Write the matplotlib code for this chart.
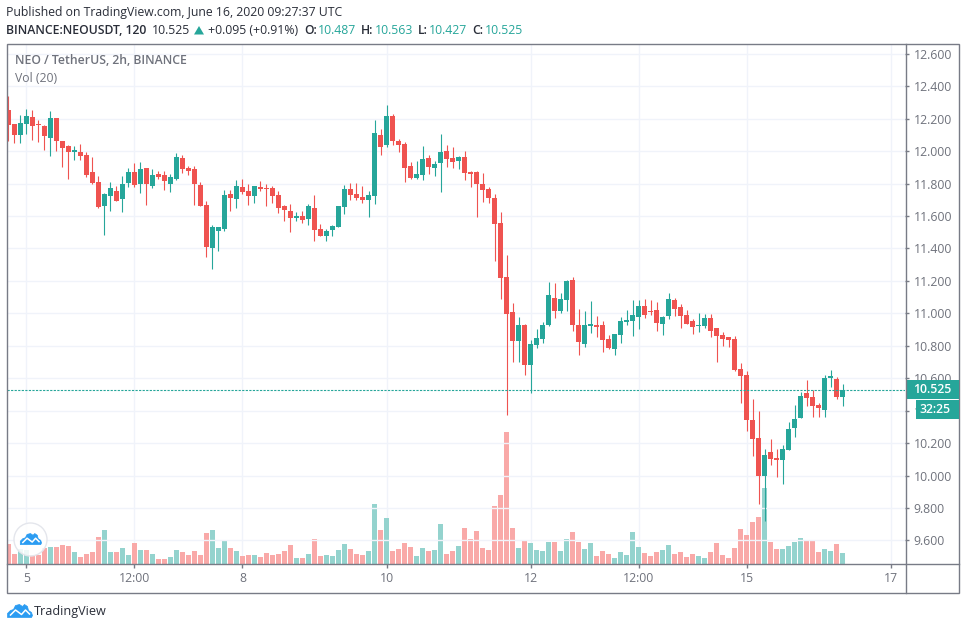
import matplotlib
matplotlib.use("Agg")
import numpy as np
import matplotlib.pyplot as plt
from matplotlib.patches import Circle, Polygon, Rectangle

# NEO / USDT 2h candles
opens = [12.251,12.165,12.099,12.167,12.208,12.165,12.152,12.080,12.202,12.060,12.029,11.994,11.992,11.974,11.869,11.807,11.661,11.721,11.752,11.703,
         11.801,11.869,11.795,11.893,11.783,11.857,11.850,11.795,11.826,11.955,11.893,11.887,11.789,11.666,11.401,11.505,11.518,11.733,11.703,11.776,
         11.752,11.721,11.776,11.770,11.770,11.727,11.659,11.629,11.585,11.598,11.579,11.647,11.518,11.475,11.512,11.530,11.653,11.764,11.733,11.715,
         11.696,11.721,12.097,12.035,12.214,12.060,12.041,11.906,11.832,11.850,11.955,11.893,11.924,11.998,11.955,11.937,11.961,11.869,11.869,11.795,
         11.764,11.709,11.555,11.222,11.006,10.828,10.926,10.680,10.803,10.840,10.926,11.092,11.012,11.080,11.203,10.926,10.809,10.920,10.926,10.926,
         10.840,10.778,10.865,10.945,10.951,10.975,11.043,11.012,11.019,10.932,10.982,11.080,11.037,10.988,10.951,10.920,10.920,10.970,10.908,10.865,
         10.852,10.840,10.655,10.618,10.341,10.230,9.996,10.144,10.107,10.095,10.156,10.292,10.353,10.507,10.483,10.434,10.403,10.600,10.594,10.487]
highs = [12.337,12.165,12.220,12.257,12.251,12.189,12.158,12.245,12.202,12.060,12.035,12.029,12.041,11.992,11.961,11.844,11.739,11.807,11.783,11.844,
         11.893,11.924,11.930,11.893,11.887,11.875,11.875,11.857,11.986,11.974,11.906,11.906,11.807,11.690,11.542,11.530,11.758,11.758,11.820,11.826,
         11.795,11.783,11.813,11.795,11.783,11.752,11.666,11.672,11.622,11.629,11.672,11.727,11.549,11.518,11.542,11.659,11.789,11.801,11.801,11.783,
         11.752,12.189,12.134,12.282,12.226,12.072,12.054,11.930,11.937,12.029,11.974,11.937,12.103,12.035,12.023,11.967,11.998,11.875,11.875,11.863,
         11.776,11.733,11.622,11.357,11.062,10.975,10.932,10.834,10.902,10.945,11.191,11.185,11.123,11.203,11.222,11.025,11.012,11.074,10.982,10.951,
         10.865,10.871,10.975,11.019,11.080,11.080,11.086,11.080,11.068,10.982,11.123,11.092,11.056,11.019,10.963,10.999,10.994,10.994,10.908,10.883,
         10.852,10.859,10.692,10.643,10.471,10.397,10.163,10.224,10.163,10.187,10.329,10.434,10.514,10.588,10.526,10.446,10.618,10.649,10.606,10.563]
lows = [12.062,12.050,12.050,12.105,12.066,12.056,12.006,11.969,12.000,11.902,11.828,11.945,11.945,11.840,11.795,11.647,11.483,11.629,11.690,11.622,
        11.776,11.776,11.739,11.666,11.770,11.826,11.758,11.746,11.820,11.863,11.850,11.666,11.659,11.345,11.271,11.382,11.505,11.629,11.647,11.733,
        11.666,11.678,11.752,11.659,11.678,11.616,11.567,11.499,11.567,11.555,11.542,11.444,11.475,11.444,11.475,11.530,11.610,11.696,11.696,11.678,
        11.592,11.672,11.974,12.023,12.035,11.992,11.807,11.826,11.826,11.820,11.857,11.844,11.746,11.900,11.893,11.887,11.820,11.776,11.591,11.684,
        11.678,11.320,11.086,10.372,10.698,10.698,10.618,10.507,10.784,10.815,10.920,10.969,11.000,11.012,10.889,10.741,10.791,10.877,10.852,10.760,
        10.778,10.741,10.815,10.926,10.858,10.901,10.969,10.988,10.889,10.865,10.963,10.982,10.908,10.932,10.871,10.883,10.908,10.852,10.698,10.797,
        10.791,10.643,10.446,10.273,10.119,9.824,9.720,10.064,9.990,9.947,10.156,10.236,10.353,10.427,10.360,10.360,10.360,10.544,10.471,10.427]
closes = [12.160,12.099,12.171,12.214,12.154,12.158,12.093,12.202,12.062,12.019,11.994,12.004,11.969,11.852,11.803,11.655,11.733,11.770,11.690,11.795,
          11.869,11.789,11.887,11.795,11.850,11.838,11.813,11.838,11.961,11.887,11.875,11.795,11.659,11.407,11.530,11.530,11.727,11.709,11.783,11.746,
          11.721,11.783,11.764,11.764,11.721,11.647,11.635,11.585,11.598,11.573,11.659,11.512,11.475,11.505,11.536,11.659,11.764,11.727,11.709,11.696,
          11.727,12.109,12.023,12.214,12.060,12.035,11.893,11.832,11.857,11.949,11.900,11.918,11.992,11.949,11.930,11.961,11.863,11.857,11.795,11.758,
          11.709,11.548,11.216,10.994,10.828,10.926,10.680,10.809,10.846,10.926,11.111,11.012,11.086,11.197,10.926,10.821,10.926,10.932,10.914,10.834,
          10.784,10.871,10.951,10.957,10.988,11.043,10.988,11.006,10.938,10.975,11.086,11.025,10.982,10.932,10.914,10.926,10.970,10.892,10.859,10.840,
          10.834,10.649,10.612,10.341,10.224,9.996,10.126,10.101,10.095,10.163,10.286,10.347,10.489,10.477,10.427,10.415,10.600,10.612,10.483,10.525]
volumes = [58,28,45,42,25,25,46,49,49,55,52,34,19,28,34,79,100,34,34,46,
           25,61,40,40,28,13,13,19,40,34,25,37,25,91,100,46,67,46,37,22,
           25,25,19,31,25,28,37,55,16,16,28,73,22,25,22,40,58,43,28,25,
           37,178,100,136,37,43,61,49,22,46,37,40,118,28,37,52,106,73,97,46,
           40,172,205,394,106,46,70,61,40,37,64,64,37,73,94,64,43,61,22,37,
           28,16,34,25,94,49,31,22,34,40,55,28,34,19,28,22,16,34,61,25,
           16,46,103,85,124,139,226,64,43,43,52,64,76,70,70,34,43,37,58,31]

price_ticks = [9.6,9.8,10.0,10.2,10.4,10.6,10.8,11.0,11.2,11.4,11.6,11.8,12.0,12.2,12.4,12.6]
time_ticks = [3,21,39,63,87,105,123,147]
time_labels = ["5","12:00","8","10","12","12:00","15","17"]
last_price = 10.525

GREEN = "#26a69a"
RED = "#ef5350"
VOL_GREEN = "#94d3ce"
VOL_RED = "#f9a9a8"
GRID = "#f0f3fa"
FRAME = "#787b86"
TEXT = "#6f727c"
BLUE = "#2b9cf2"
FONT = "Open Sans"

W, H = 966, 629
plt.rcParams["font.family"] = FONT

fig = plt.figure(figsize=(W / 100, H / 100), dpi=100, facecolor="white")


def rect(x0, y0, x1, y1):
    return [x0 / W, 1 - y1 / H, (x1 - x0) / W, (y1 - y0) / H]


def px(x, y):
    return x / W, 1 - y / H


def label(x, y, s, **kw):
    kw.setdefault("va", "center")
    kw.setdefault("color", "#2a2e39")
    kw.setdefault("fontsize", 8.8)
    return fig.text(*px(x, y), s, **kw)


idx = np.arange(len(opens))
o, h, l, c = map(np.array, (opens, highs, lows, closes))
up = c >= o

# volume pane shares the box, scale is arbitrary
ax_vol = fig.add_axes(rect(6.5, 43.5, 905.5, 563.5))
ax_vol.set_xlim(-0.3, 149.45)
ax_vol.set_ylim(0, 1560)
ax_vol.bar(idx, volumes, width=0.83, color=[VOL_GREEN if u else VOL_RED for u in up], linewidth=0, zorder=2)
ax_vol.set_xticks(time_ticks, time_labels, fontsize=8.8, color=TEXT)
ax_vol.tick_params(axis="x", length=3, width=1, color=FRAME, pad=3)
ax_vol.set_yticks([])
ax_vol.grid(False)
ax_vol.vlines(time_ticks, 0, 1560, color=GRID, lw=1, zorder=1)
for s in ax_vol.spines.values():
    s.set_visible(False)
ax_vol.spines["bottom"].set_visible(True)
ax_vol.spines["bottom"].set_color(FRAME)
ax_vol.spines["bottom"].set_linewidth(1)

# price pane
ax = fig.add_axes(rect(6.5, 43.5, 905.5, 563.5), sharex=ax_vol)
ax.patch.set_alpha(0)
ax.set_ylim(9.4577, 12.663)
ax.yaxis.tick_right()
ax.set_yticks(price_ticks, [f"{p:.3f}" for p in price_ticks], fontsize=8.8, color=TEXT)
ax.tick_params(axis="y", length=3, width=1, color=FRAME, pad=3)
ax.tick_params(axis="x", bottom=False, labelbottom=False)
ax.hlines(price_ticks, -0.3, 149.45, color=GRID, lw=1, zorder=0)
for s in ax.spines.values():
    s.set_visible(False)

colors = [GREEN if u else RED for u in up]
wicks = ax.vlines(idx, l, h, color=colors, lw=0.8, zorder=3)
wicks.set_snap(True)
body_low = np.minimum(o, c)
body_h = np.maximum(np.abs(c - o), 0.008)
ax.bar(idx, body_h, bottom=body_low, width=0.83, color=colors, linewidth=0, zorder=4)
ax.axhline(last_price, color=GREEN, lw=0.8, ls=(0, (2, 1.2)), zorder=5)

# outer frame, drawn on top
overlay = fig.add_axes([0, 0, 1, 1], facecolor="none")
overlay.set_xlim(0, W)
overlay.set_ylim(H, 0)
overlay.axis("off")
overlay.add_patch(Rectangle((6.5, 43.5), 952.5, 549, fill=False, ec=FRAME, lw=1))
overlay.plot([905.5, 905.5], [43.5, 592.5], color=FRAME, lw=1)
overlay.plot([905.5, 959], [563.5, 563.5], color=FRAME, lw=1)
overlay.add_patch(Rectangle((905.5, 380), 53, 18.7, fc=GREEN, ec="none"))
overlay.add_patch(Rectangle((916, 400), 42.5, 19, fc=GREEN, ec="none"))
overlay.text(932, 389.6, "10.525", color="white", fontsize=8.8, ha="center", va="center", fontweight="semibold")
overlay.text(935, 409.8, "32:25", color="white", fontsize=8.8, ha="center", va="center", fontweight="semibold")

# chart logo badge
overlay.add_patch(Circle((30.5, 539.5), 16.5, fc=(1, 1, 1, 0.85), ec="#e4e6ec", lw=1))


def cloud(cx, cy, sc):
    outline = [(-12, 6), (-12, 2), (-9, -1), (-6, -2), (-4, -6), (0, -7), (3, -5), (5, -7), (8, -5), (9, -1),
               (12, 1), (13, 4), (12, 6)]
    zig = [(-9, 3.5), (-4, -1.5), (2, 3), (6, -1.5), (10, 2.5)]
    overlay.add_patch(Polygon([(cx + x * sc, cy + y * sc) for x, y in outline], fc=BLUE, ec=BLUE, lw=0.5))
    overlay.plot([cx + x * sc for x, _ in zig], [cy + y * sc for _, y in zig], color="white", lw=1.1)


cloud(30.5, 539.5, 0.85)
cloud(19.5, 611.5, 1.0)

# header lines
label(6, 12.5, "Published on TradingView.com, June 16, 2020 09:27:37 UTC")
label(6, 30, "BINANCE:NEOUSDT, 120", fontweight="semibold")
label(152, 30, "10.525")
overlay.add_patch(Polygon([(194, 34.5), (204, 34.5), (199, 26)], fc=GREEN, ec="none"))
label(208, 30, "+0.095 (+0.91%)")
for xk, xv, key, val in [(304, 318, "O:", "10.487"), (361, 375, "H:", "10.563"), (418, 429, "L:", "10.427"), (472, 485, "C:", "10.525")]:
    label(xk, 30, key, fontweight="semibold")
    label(xv, 30, val, color=GREEN)

label(15, 60.5, "NEO / TetherUS, 2h, BINANCE", color=TEXT, fontweight="semibold")
label(15, 78, "Vol (20)", color=TEXT)
label(34, 611, "TradingView", fontsize=9.1)

fig.savefig("out.png", dpi=100)
